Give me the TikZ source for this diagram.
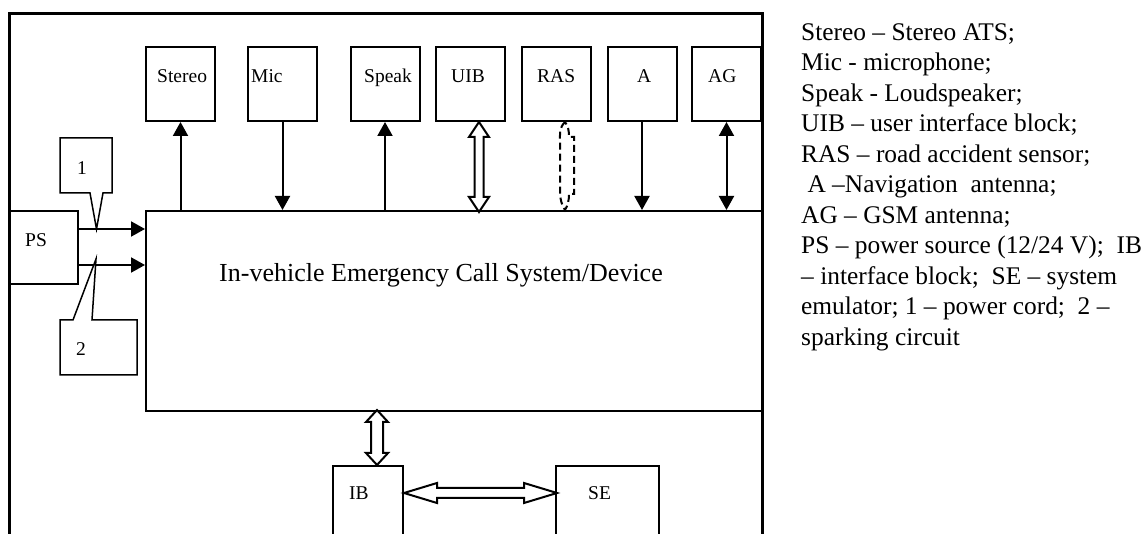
\documentclass[tikz,border=0pt]{standalone}
\usepackage{fontspec}
\setmainfont{Liberation Serif}
\usepackage{tikz}
\usetikzlibrary{arrows.meta}
\usetikzlibrary{calc}

\tikzset{
  >={Triangle[length=14pt,width=15pt]},
  blk/.style={draw, line width=2pt, inner sep=0pt},
  topblk/.style={blk, minimum width=69pt, minimum height=74pt},
  lbl/.style={anchor=base west, inner sep=0pt, font=\fontsize{19.5}{21}\selectfont},
  arr/.style={line width=2pt, ->},
  hollow/.style={draw, line width=2pt, fill=white, line join=miter},
  dsh/.style={line width=2pt, dash pattern=on 7pt off 4pt},
  call/.style={line width=1.5pt, line join=miter},
}

\begin{document}
\begin{tikzpicture}[x=1pt,y=-1pt]
    \clip (0,0) rectangle (1144,534);
    \draw[line width=3pt] (9,560) -- (9,14) -- (762,14) -- (762,560);

    \node[blk, minimum width=616pt, minimum height=200pt] (main) at (454,311) {};
    \node[anchor=base, inner sep=0pt, font=\fontsize{26}{30}\selectfont] (maint) at (441,282) {In-vehicle Emergency Call System/Device};

    \node[topblk] (stereo) at (180.5,84) {};
    \node[topblk] (mic) at (282.5,84) {};
    \node[topblk] (speak) at (385,84) {};
    \node[topblk] (uib) at (470.5,84) {};
    \node[topblk] (ras) at (556.5,84) {};
    \node[topblk] (ant) at (642,84) {};
    \node[topblk] (ag) at (726.5,84) {};
    \node[lbl] (stereol) at (157,83) {Stereo};
    \node[lbl] (micl) at (251,83) {Mic};
    \node[lbl] (speakl) at (364,83) {Speak};
    \node[lbl] (uibl) at (451,83) {UIB};
    \node[lbl] (rasl) at (537,83) {RAS};
    \node[lbl] (antl) at (637,83) {A};
    \node[lbl] (agl) at (708,83) {AG};

    \node[blk, minimum width=69pt, minimum height=73pt] (ps) at (43.5,247.5) {};
    \node[lbl] (psl) at (25,247) {PS};
    \node[blk, minimum width=70pt, minimum height=108pt] (ib) at (368,520) {};
    \node[lbl] (ibl) at (349,500) {IB};
    \node[blk, minimum width=103pt, minimum height=108pt] (se) at (607.5,520) {};
    \node[lbl] (sel) at (588,500) {SE};

    \draw[arr] (stereo.south |- main.north) -- (stereo.south);
    \draw[arr] (mic.south) -- (mic.south |- main.north);
    \draw[arr] (speak.south |- main.north) -- (speak.south);
    \draw[arr] (ant.south) -- (ant.south |- main.north);
    \draw[arr, <->] (ag.south) -- (ag.south |- main.north);
    \draw[arr] (ps.east |- 0,229) -- (main.west |- 0,229);
    \draw[arr] (ps.east |- 0,265) -- (main.west |- 0,265);

    \draw[hollow] ([xshift=8.5pt]uib.south) -- ++(-10,15) -- ++(5.5,0) -- ++(0,60) -- ++(-5.5,0) -- ++(10,15)
        -- ++(10,-15) -- ++(-5.5,0) -- ++(0,-60) -- ++(5.5,0) -- cycle;
    \coordinate (rt) at ([xshift=8.5pt]ras.south);
    \coordinate (rb) at (rt |- main.north);
    \draw[dsh] (rt) .. controls (559,128) and (560,134) .. (560,142) -- (560,192) .. controls (560,200) and (562,205) .. (rb)
        .. controls (568,205) and (569,200) .. (569,194) -- (574,194) -- (574,137) -- (569,137) .. controls (569,130) and (568,126) .. (rt);
    \draw[hollow] ([xshift=9pt]ib.north) -- ++(-11,-12) -- ++(5,0) -- ++(0,-31) -- ++(-5,0) -- ++(11,-12)
        -- ++(11,12) -- ++(-5,0) -- ++(0,31) -- ++(5,0) -- cycle;
    \draw[hollow] (ib.east |- 0,493) -- ++(33,-10) -- ++(0,5) -- ++(87,0) -- ++(0,-5) -- ++(33,10)
        -- ++(-33,10) -- ++(0,-5) -- ++(-87,0) -- ++(0,5) -- cycle;

    \coordinate (tip1) at (96.5,229);
    \coordinate (tip2) at (96,259);
    \draw[call, fill=white] (tip1) -- (90,193) -- (60,193) -- (60,138) -- (112,138) -- (112,193) -- (103,193) -- cycle;
    \node[lbl] (one) at (77,175) {1};
    \draw[call, fill=white] (tip2) -- (92,320) -- (137,320) -- (137,375) -- (60,375) -- (60,320) -- (73,320) -- cycle;
    \node[lbl] (two) at (76,356) {2};

    \node[anchor=north west, inner sep=0pt, align=left, font=\fontsize{25.4}{30.5}\selectfont] (legend) at (801,23)
        {Stereo – Stereo ATS;\\ Mic - microphone;\\ Speak - Loudspeaker;\\ UIB – user interface block;\\
         RAS – road accident sensor;\\ ~A –Navigation~ antenna;\\ AG – GSM antenna;\\
         PS – power source (12/24 V);~ IB\\ – interface block;~ SE – system\\ emulator; 1 – power cord;~ 2 –\\ sparking circuit};
\end{tikzpicture}
\end{document}
